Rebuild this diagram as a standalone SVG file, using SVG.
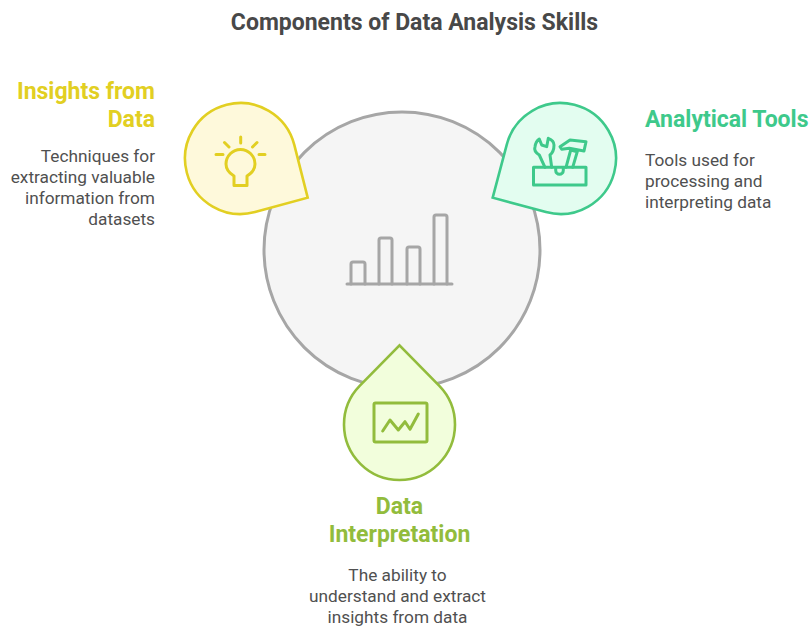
<svg xmlns="http://www.w3.org/2000/svg" width="810" height="626" viewBox="0 0 810 626">
<style>
text{font-family:Roboto,"Liberation Sans",sans-serif}
.t{font-size:23px;font-weight:700;fill:#484848}
.h{font-size:23px;font-weight:700}
.b{font-size:17.250px;fill:#505050}
.e{text-anchor:end}.m{text-anchor:middle}
.ic{fill:none;stroke-width:3;stroke-linecap:round;stroke-linejoin:round}
.drop{stroke-width:2.600;stroke-linejoin:miter}
</style>
<rect width="810" height="626" fill="#fff"/>
<text class="t m" x="414.500" y="29.500">Components of Data Analysis Skills</text>
<g id="hub">
<circle cx="402" cy="250" r="138" fill="#f5f5f5" stroke="#a6a6a6" stroke-width="3"/>
<g class="ic" stroke="#a6a6a6">
<path d="M347 284H452"/>
<path d="M351 284V264Q351 262 353 262H363Q365 262 365 264V284M379 284V240Q379 238 381 238H390Q392 238 392 240V284M407 284V249Q407 247 409 247H418Q420 247 420 249V284M434 284V217Q434 215 436 215H445Q447 215 447 217V284"/>
</g>
</g>
<g id="insights">
<path class="drop" d="M294.300 144.900L307.700 197.700L255 212.100A55.500 55.500 0 1 1 294.300 144.900Z" fill="#fef9db" stroke="#e2cf22"/>
<g class="ic" stroke="#e2cf22">
<path d="M240.700 137V143M224.500 142.500L229 147M257 142.500L252.500 147M216 154.500H223M259 154.500H265"/>
<path d="M234 185.500V176C229 173 226 168.500 226 164A14.500 14.500 0 0 1 255 164C255 168.500 252 173 247 176V185.500Z"/>
</g>
<text class="h e" fill="#e2cf22"><tspan x="155" y="99">Insights from</tspan><tspan x="155" y="127">Data</tspan></text>
<text class="b e"><tspan x="155" y="162">Techniques for</tspan><tspan x="155" y="183">extracting valuable</tspan><tspan x="155" y="204">information from</tspan><tspan x="155" y="225">datasets</tspan></text>
</g>
<g id="tools">
<path class="drop" d="M506.700 144.900L492.700 197.700L546 212.100A55.500 55.500 0 1 0 506.700 144.900Z" fill="#e3fdf0" stroke="#3ec98b"/>
<g class="ic" stroke="#3ec98b" stroke-width="2.500">
<path d="M533.500 167.300H586V185H533.500ZM555.700 167.300V170.500A3.800 3.800 0 0 0 563.300 170.500V167.300"/>
<path d="M545 167.300L539.300 155C535.500 152.500 534 149.500 535 146.700C535.500 143 537 140.500 539.300 139L541.700 145L546.700 146.700L548.300 138.300C551.500 139.500 554 142 554 145C554 149.500 552.500 153 550 155L551.700 167.300"/>
<path d="M566 167.300L570.700 150L577.300 151.700L572.700 167.300M560 146.700L570 140L586 141.700L584 151L569.300 148.300L561.700 149.300Z"/>
</g>
<text class="h" fill="#3ec98b" x="645" y="127">Analytical Tools</text>
<text class="b"><tspan x="645" y="166">Tools used for</tspan><tspan x="645" y="187">processing and</tspan><tspan x="645" y="208">interpreting data</tspan></text>
</g>
<g id="interpretation">
<path class="drop" d="M359.900 385.600L399.500 345.300L439.100 385.600A55.500 55.500 0 1 1 359.900 385.600Z" fill="#f2fedc" stroke="#92bc3c"/>
<g class="ic" stroke="#92bc3c">
<rect x="374" y="403" width="53" height="39" rx="1.500"/>
<path d="M382.700 431L390 420L398.300 430L405 421.700L410 429.300L418.300 414"/>
</g>
<text class="h m" fill="#92bc3c"><tspan x="399.500" y="514">Data</tspan><tspan x="399.500" y="542">Interpretation</tspan></text>
<text class="b m"><tspan x="397.500" y="581">The ability to</tspan><tspan x="397.500" y="602">understand and extract</tspan><tspan x="397.500" y="623">insights from data</tspan></text>
</g>
<g id="connectors"></g>
</svg>
